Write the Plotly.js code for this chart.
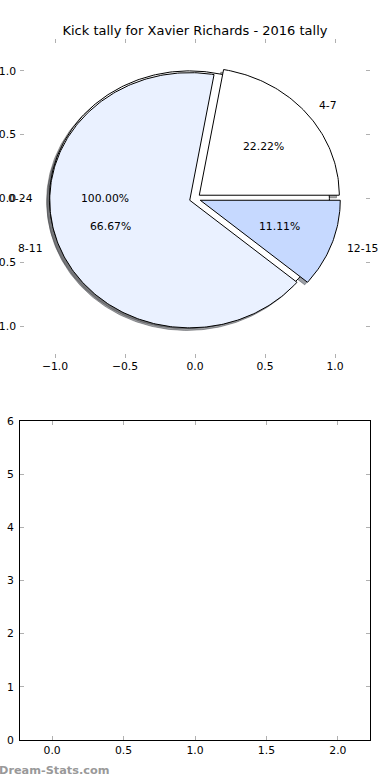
<!DOCTYPE html>
<html>
<head>
<meta charset="utf-8">
<script src="https://cdn.plot.ly/plotly-3.0.1.min.js"></script>
<style>html,body{margin:0;padding:0;background:#fff;}#chart{width:390px;height:780px;}</style>
</head>
<body>
<div id="chart"></div>
<script>
// ---- data ----
const chartTitle = 'Kick tally for Xavier Richards - 2016 tally';
const sliceLabels = ['4-7', '8-11', '12-15'];
const sliceValues = [2, 6, 1];
const totalLabels = ['0-24'];
const totalValues = [9];
const pieTicks = [-1.0, -0.5, 0.0, 0.5, 1.0];
const lowerXTicks = [0.0, 0.5, 1.0, 1.5, 2.0];
const lowerYTicks = [0, 1, 2, 3, 4, 5, 6];
const watermark = 'Dream-Stats.com';

// ---- styles ----
const sliceColors = ['#ffffff', '#eaf1ff', '#c6d9ff'];
const totalColors = ['#ffffff'];
const EXPLODE = 0.04;
const FONT = 'DejaVu Sans, sans-serif';

function wedge(cx, cy, r, t1, t2, full) {
  const xs = [], ys = [];
  const n = Math.max(4, Math.ceil(Math.abs(t2 - t1) / 1));
  if (!full) { xs.push(cx); ys.push(cy); }
  for (let i = 0; i <= n; i++) {
    const t = (t1 + (t2 - t1) * i / n) * Math.PI / 180;
    xs.push(cx + r * Math.cos(t));
    ys.push(cy + r * Math.sin(t));
  }
  if (!full) { xs.push(cx); ys.push(cy); }
  return {xs, ys};
}

// build pie geometry (matplotlib-like: start at 0deg, counter-clockwise)
function buildPie(labels, values, colors) {
  const total = values.reduce((a, b) => a + b, 0);
  let start = 0;
  return labels.map((lab, i) => {
    const frac = values[i] / total;
    const sweep = 360 * frac;
    const t1 = start, t2 = start + sweep;
    start = t2;
    const mid = (t1 + t2) / 2 * Math.PI / 180;
    const cx = EXPLODE * Math.cos(mid), cy = EXPLODE * Math.sin(mid);
    const full = Math.abs(sweep - 360) < 1e-9;
    return {lab, frac, t1, t2, mid, cx, cy, full, color: colors[i]};
  });
}

const totalPie = buildPie(totalLabels, totalValues, totalColors);
const slicePie = buildPie(sliceLabels, sliceValues, sliceColors);
const allWedges = totalPie.concat(slicePie);

function darken(hex) {
  const r = parseInt(hex.slice(1, 3), 16), g = parseInt(hex.slice(3, 5), 16), b = parseInt(hex.slice(5, 7), 16);
  return `rgba(${Math.round(r*0.3)},${Math.round(g*0.3)},${Math.round(b*0.3)},0.5)`;
}

const traces = [];
// shadows first
allWedges.forEach(w => {
  const p = wedge(w.cx - 0.02, w.cy - 0.02, 1, w.t1, w.t2, w.full);
  traces.push({type: 'scatter', mode: 'lines', x: p.xs, y: p.ys, xaxis: 'x', yaxis: 'y',
    fill: 'toself', fillcolor: darken(w.color), line: {color: darken(w.color), width: 1},
    hoverinfo: 'skip', showlegend: false});
});
// wedges
allWedges.forEach(w => {
  const p = wedge(w.cx, w.cy, 1, w.t1, w.t2, w.full);
  traces.push({type: 'scatter', mode: 'lines', x: p.xs, y: p.ys, xaxis: 'x', yaxis: 'y',
    fill: 'toself', fillcolor: w.color, line: {color: '#000000', width: 1},
    name: w.lab, hoverinfo: 'name', showlegend: false});
});
// empty lower axes trace
traces.push({type: 'scatter', mode: 'markers', x: [], y: [], xaxis: 'x2', yaxis: 'y2', showlegend: false});

const annotations = [];
allWedges.forEach(w => {
  const lx = w.cx + 1.1 * Math.cos(w.mid), ly = w.cy + 1.1 * Math.sin(w.mid);
  annotations.push({x: lx, y: ly, xref: 'x', yref: 'y', text: w.lab, showarrow: false,
    xanchor: lx > 0 ? 'left' : 'right', yanchor: 'middle',
    font: {family: FONT, size: 10.8, color: '#000'}});
  const px = w.cx + 0.6 * Math.cos(w.mid), py = w.cy + 0.6 * Math.sin(w.mid);
  annotations.push({x: px, y: py, xref: 'x', yref: 'y', text: (w.frac * 100).toFixed(2) + '%', showarrow: false,
    xanchor: 'center', yanchor: 'middle',
    font: {family: FONT, size: 10.8, color: '#000'}});
});
annotations.push({x: 0, y: 1 - 770/780, xref: 'paper', yref: 'paper', text: '<b>' + watermark + '</b>',
  showarrow: false, xanchor: 'left', yanchor: 'middle', xshift: -3,
  font: {family: FONT, size: 11.3, color: '#999999'}});

const W = 390, H = 780;
const tickFont = {family: FONT, size: 10.8, color: '#000'};
const commonAx = {showgrid: false, zeroline: false, ticks: 'inside', ticklen: 4, tickwidth: 1,
  tickcolor: '#b0b0b0', tickfont: tickFont, mirror: 'allticks', fixedrange: true};

const layout = {
  width: W, height: H,
  margin: {l: 0, r: 0, t: 0, b: 0, pad: 0},
  paper_bgcolor: '#fff', plot_bgcolor: 'rgba(0,0,0,0)',
  showlegend: false,
  font: {family: FONT, size: 10.8, color: '#000'},
  title: {text: chartTitle, x: 0.5, xanchor: 'center', y: 1 - 30/H, yanchor: 'middle',
    font: {family: FONT, size: 13, color: '#000'}},
  xaxis: Object.assign({}, commonAx, {domain: [20/W, 370/W], range: [-1.25, 1.25], anchor: 'y',
    tickvals: pieTicks, tickformat: '.1f', showline: false}),
  yaxis: Object.assign({}, commonAx, {domain: [1 - 358/H, 1 - 39/H], range: [-1.25, 1.25], anchor: 'x',
    tickvals: pieTicks, tickformat: '.1f', showline: false, ticklabelstandoff: 3}),
  xaxis2: Object.assign({}, commonAx, {domain: [20/W, 370/W], range: [-0.225, 2.225], anchor: 'y2',
    tickvals: lowerXTicks, tickformat: '.1f', showline: true, linecolor: '#000', linewidth: 1}),
  yaxis2: Object.assign({}, commonAx, {domain: [1 - 740/H, 1 - 421/H], range: [0, 6], anchor: 'x2',
    tickvals: lowerYTicks, tickformat: 'd', showline: true, linecolor: '#000', linewidth: 1, ticklabelstandoff: 3}),
  annotations: annotations
};

Plotly.newPlot('chart', traces, layout, {displayModeBar: false, staticPlot: true});
</script>
</body>
</html>
